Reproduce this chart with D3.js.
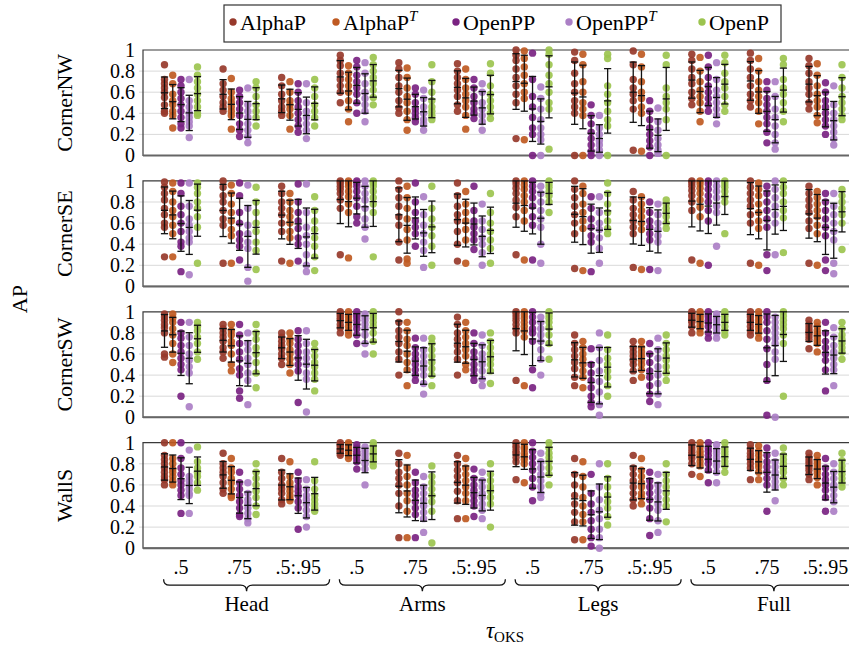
<!DOCTYPE html>
<html>
<head>
<meta charset="utf-8">
<script src="https://cdn.jsdelivr.net/npm/d3@7"></script>
<style>
  body { margin: 0; background: #fff; }
</style>
</head>
<body>
<div id="chart"></div>
<script>
// categories
var parts = ["Head", "Arms", "Legs", "Full"];
var thresholds = [".5", ".75", ".5:.95"];
var methods = ["AlphaP", "AlphaPT", "OpenPP", "OpenPPT", "OpenP"];
var methodNames = [["AlphaP", ""], ["AlphaP", "T"], ["OpenPP", ""], ["OpenPP", "T"], ["OpenP", ""]];
var colors = ["#97392b", "#bf5a22", "#7a2382", "#ab7fc5", "#9cc44f"];
var scenes = ["CornerNW", "CornerSE", "CornerSW", "WallS"];
var yTicks = [0, 0.2, 0.4, 0.6, 0.8, 1];

// AP per video, one list per method, 12 groups (part x threshold) per scene
var cornerNW = [
  [[0.86,0.72,0.68,0.64,0.6,0.55,0.48,0.42,0.40],[0.76,0.68,0.58,0.52,0.48,0.42,0.38,0.26],[0.72,0.66,0.6,0.54,0.48,0.42,0.36,0.3,0.26],[0.72,0.52,0.46,0.4,0.36,0.32,0.28,0.17],[0.84,0.76,0.7,0.64,0.58,0.52,0.46,0.4,0.38]],
  [[0.82,0.68,0.62,0.56,0.5,0.46,0.42],[0.73,0.6,0.54,0.5,0.46,0.42,0.38,0.25],[0.62,0.56,0.5,0.44,0.38,0.3,0.24,0.18],[0.64,0.48,0.42,0.36,0.3,0.24,0.18,0.12],[0.7,0.64,0.56,0.48,0.42,0.36,0.28]],
  [[0.74,0.66,0.58,0.52,0.46,0.42,0.38],[0.7,0.6,0.52,0.48,0.44,0.38,0.25],[0.68,0.6,0.52,0.46,0.4,0.34,0.28,0.22],[0.68,0.5,0.42,0.36,0.3,0.24,0.16],[0.72,0.64,0.56,0.48,0.42,0.36,0.28]],
  [[0.95,0.9,0.85,0.78,0.72,0.66,0.6,0.5],[0.85,0.78,0.72,0.66,0.6,0.52,0.44,0.32],[0.9,0.84,0.76,0.7,0.64,0.58,0.5,0.4],[0.88,0.78,0.68,0.6,0.54,0.48,0.42,0.32],[0.93,0.86,0.8,0.74,0.68,0.62,0.55,0.48]],
  [[0.88,0.82,0.74,0.66,0.6,0.52,0.45,0.4],[0.83,0.74,0.64,0.56,0.5,0.42,0.34,0.24],[0.64,0.58,0.5,0.44,0.4,0.36,0.32],[0.62,0.54,0.46,0.4,0.34,0.3,0.24],[0.86,0.7,0.6,0.52,0.46,0.42,0.38,0.34]],
  [[0.87,0.8,0.74,0.68,0.62,0.56,0.48,0.42],[0.82,0.72,0.64,0.58,0.52,0.46,0.38,0.25],[0.72,0.64,0.56,0.5,0.44,0.4,0.35],[0.68,0.6,0.5,0.44,0.38,0.32,0.24],[0.87,0.78,0.66,0.58,0.52,0.46,0.4,0.35]],
  [[1.0,0.95,0.9,0.82,0.74,0.66,0.58,0.5,0.16],[0.99,0.92,0.84,0.76,0.68,0.6,0.54,0.15],[0.97,0.72,0.56,0.46,0.36,0.26,0.2,0.0],[0.65,0.54,0.44,0.34,0.26,0.2,0.15,0.0],[1.0,0.96,0.86,0.76,0.68,0.6,0.5,0.44,0.06]],
  [[0.98,0.9,0.78,0.68,0.6,0.52,0.46,0.4,0.0],[0.96,0.86,0.7,0.6,0.5,0.44,0.38,0.0],[0.48,0.38,0.3,0.22,0.16,0.1,0.04,0.0],[0.38,0.26,0.2,0.14,0.1,0.05,0.0],[0.96,0.92,0.66,0.58,0.5,0.42,0.34,0.28,0.0]],
  [[0.99,0.86,0.72,0.64,0.58,0.52,0.44,0.05],[0.96,0.84,0.7,0.6,0.54,0.46,0.4,0.04],[0.52,0.42,0.34,0.26,0.2,0.14,0.08,0.0],[0.45,0.32,0.24,0.16,0.1,0.05,0.02],[0.95,0.86,0.64,0.56,0.5,0.44,0.34,0.0]],
  [[0.96,0.9,0.82,0.74,0.68,0.6,0.54,0.48],[0.93,0.8,0.7,0.62,0.56,0.5,0.42,0.32],[0.95,0.84,0.74,0.66,0.6,0.54,0.48,0.42],[0.88,0.72,0.62,0.56,0.5,0.44,0.38,0.3],[0.95,0.88,0.78,0.7,0.64,0.56,0.48,0.42]],
  [[0.97,0.9,0.82,0.74,0.66,0.58,0.52,0.46],[0.92,0.8,0.7,0.62,0.56,0.5,0.42,0.3],[0.7,0.62,0.54,0.48,0.42,0.36,0.3,0.22,0.12],[0.7,0.56,0.44,0.36,0.28,0.2,0.12,0.06],[0.92,0.86,0.72,0.64,0.58,0.5,0.42,0.32]],
  [[0.92,0.85,0.78,0.7,0.64,0.58,0.5,0.44],[0.87,0.76,0.66,0.58,0.52,0.46,0.38,0.31],[0.69,0.6,0.52,0.46,0.4,0.34,0.28,0.2],[0.66,0.48,0.4,0.34,0.28,0.22,0.16,0.1],[0.86,0.74,0.64,0.56,0.5,0.44,0.38,0.34]]
];
var cornerSE = [
  [[0.99,0.94,0.88,0.82,0.74,0.68,0.6,0.56,0.28],[0.98,0.9,0.8,0.72,0.66,0.58,0.5,0.28],[0.98,0.88,0.76,0.68,0.6,0.52,0.42,0.38,0.14],[0.98,0.76,0.64,0.58,0.52,0.46,0.42,0.11],[0.98,0.94,0.88,0.8,0.74,0.66,0.56,0.22]],
  [[1.0,0.94,0.86,0.8,0.72,0.64,0.58,0.22],[0.96,0.88,0.78,0.7,0.62,0.54,0.48,0.22],[0.98,0.86,0.7,0.6,0.5,0.44,0.38,0.25],[0.96,0.74,0.58,0.5,0.42,0.36,0.18,0.05],[0.94,0.8,0.7,0.6,0.52,0.42,0.34,0.16]],
  [[0.95,0.88,0.8,0.74,0.68,0.6,0.52,0.24],[0.88,0.8,0.72,0.66,0.6,0.52,0.46,0.22],[0.97,0.8,0.7,0.62,0.55,0.46,0.4,0.24],[0.97,0.7,0.56,0.48,0.4,0.3,0.2,0.14],[0.85,0.72,0.62,0.54,0.46,0.38,0.28,0.15]],
  [[1.0,0.98,0.95,0.92,0.88,0.82,0.74,0.3],[1.0,0.98,0.95,0.9,0.85,0.78,0.7,0.27],[1.0,0.98,0.95,0.9,0.84,0.76,0.66,0.6],[1.0,0.95,0.88,0.82,0.74,0.64,0.56,0.45],[1.0,0.98,0.95,0.9,0.84,0.78,0.7,0.28]],
  [[1.0,0.92,0.84,0.76,0.66,0.58,0.42,0.25],[0.95,0.84,0.74,0.64,0.54,0.44,0.26,0.22],[0.98,0.8,0.7,0.62,0.56,0.5,0.38],[0.85,0.68,0.58,0.5,0.42,0.34,0.18],[0.95,0.74,0.64,0.56,0.48,0.38,0.2]],
  [[0.98,0.86,0.76,0.68,0.62,0.52,0.4,0.24],[0.9,0.78,0.7,0.62,0.54,0.44,0.22],[0.95,0.72,0.62,0.56,0.5,0.44,0.35],[0.78,0.62,0.54,0.46,0.4,0.32,0.2],[0.88,0.7,0.6,0.52,0.44,0.36,0.22]],
  [[1.0,0.97,0.93,0.88,0.82,0.75,0.66,0.3],[1.0,0.96,0.92,0.86,0.8,0.72,0.62,0.25],[1.0,0.95,0.9,0.84,0.76,0.66,0.58,0.25],[0.95,0.88,0.8,0.72,0.64,0.56,0.4,0.22],[1.0,0.97,0.94,0.9,0.86,0.8,0.7]],
  [[1.0,0.92,0.84,0.76,0.68,0.6,0.5,0.17],[0.95,0.88,0.78,0.7,0.62,0.55,0.15],[0.85,0.74,0.64,0.56,0.48,0.42,0.14],[0.85,0.7,0.6,0.54,0.46,0.36,0.22],[0.98,0.88,0.78,0.7,0.62,0.55,0.5]],
  [[0.9,0.82,0.74,0.68,0.62,0.56,0.5,0.18],[0.85,0.78,0.72,0.66,0.6,0.54,0.16],[0.8,0.7,0.62,0.56,0.5,0.44,0.16],[0.78,0.68,0.6,0.54,0.48,0.42,0.15],[0.82,0.78,0.74,0.7,0.66,0.6,0.55]],
  [[1.0,0.98,0.95,0.91,0.86,0.8,0.72,0.25],[1.0,0.97,0.93,0.88,0.82,0.75,0.66,0.22],[1.0,0.97,0.92,0.86,0.8,0.72,0.62,0.2],[1.0,0.95,0.9,0.84,0.76,0.7,0.38],[1.0,0.97,0.94,0.9,0.85,0.8,0.5]],
  [[1.0,0.94,0.88,0.82,0.76,0.68,0.6,0.22],[0.98,0.92,0.86,0.78,0.7,0.62,0.55,0.2],[0.95,0.88,0.8,0.72,0.64,0.56,0.3,0.15],[1.0,0.92,0.84,0.76,0.68,0.6,0.3],[1.0,0.94,0.88,0.8,0.72,0.65,0.32]],
  [[0.95,0.88,0.82,0.76,0.7,0.62,0.55,0.22],[0.9,0.84,0.78,0.72,0.66,0.58,0.5,0.2],[0.88,0.8,0.72,0.64,0.56,0.48,0.25,0.15],[0.88,0.76,0.68,0.6,0.52,0.44,0.22,0.12],[0.92,0.86,0.8,0.74,0.68,0.6,0.35]]
];
var cornerSW = [
  [[0.98,0.95,0.92,0.88,0.85,0.8,0.6,0.57],[0.98,0.94,0.9,0.84,0.78,0.7,0.6,0.52],[0.9,0.8,0.75,0.68,0.62,0.56,0.5,0.45,0.2],[0.9,0.76,0.68,0.6,0.54,0.48,0.42,0.1],[0.9,0.86,0.82,0.76,0.7,0.62,0.55]],
  [[0.88,0.84,0.8,0.76,0.72,0.66,0.62,0.56],[0.88,0.82,0.78,0.72,0.68,0.6,0.5,0.44],[0.88,0.78,0.7,0.62,0.55,0.46,0.4,0.25,0.18],[0.8,0.7,0.64,0.56,0.5,0.42,0.35,0.12],[0.88,0.8,0.74,0.66,0.6,0.52,0.42,0.28]],
  [[0.8,0.76,0.72,0.68,0.65,0.6,0.56,0.5],[0.8,0.74,0.7,0.64,0.6,0.55,0.5,0.42],[0.82,0.74,0.68,0.62,0.56,0.5,0.44,0.14],[0.82,0.7,0.62,0.56,0.5,0.42,0.36,0.05],[0.7,0.64,0.58,0.52,0.48,0.42,0.36,0.25]],
  [[1.0,0.98,0.96,0.94,0.92,0.88,0.85,0.8],[1.0,0.97,0.95,0.92,0.9,0.86,0.82,0.78],[1.0,0.97,0.95,0.92,0.88,0.84,0.78,0.7],[0.98,0.95,0.92,0.88,0.84,0.78,0.7,0.6],[1.0,0.97,0.94,0.9,0.86,0.8,0.72,0.6]],
  [[1.0,0.9,0.82,0.76,0.7,0.62,0.55,0.4],[0.9,0.82,0.74,0.68,0.6,0.52,0.45,0.3],[0.75,0.66,0.6,0.55,0.5,0.45,0.4,0.35],[0.75,0.64,0.58,0.52,0.46,0.4,0.32,0.22],[0.75,0.7,0.64,0.58,0.52,0.46,0.4,0.3]],
  [[0.95,0.88,0.8,0.74,0.68,0.62,0.55,0.4],[0.9,0.82,0.76,0.7,0.64,0.58,0.5,0.45],[0.8,0.7,0.62,0.56,0.5,0.45,0.4,0.35],[0.78,0.68,0.6,0.55,0.5,0.44,0.36,0.3],[0.8,0.72,0.66,0.6,0.55,0.5,0.44,0.32]],
  [[1.0,0.98,0.95,0.92,0.88,0.84,0.8,0.35],[1.0,0.97,0.94,0.9,0.86,0.82,0.76,0.3],[1.0,0.95,0.9,0.84,0.8,0.72,0.45,0.28],[0.95,0.9,0.84,0.78,0.72,0.64,0.55,0.4],[1.0,0.97,0.94,0.9,0.85,0.78,0.7,0.55]],
  [[0.78,0.7,0.64,0.58,0.52,0.46,0.38,0.3],[0.72,0.66,0.6,0.55,0.5,0.44,0.38,0.28],[0.65,0.5,0.42,0.35,0.28,0.2,0.14,0.1],[0.8,0.66,0.54,0.44,0.34,0.24,0.12,0.02],[0.78,0.64,0.56,0.5,0.44,0.38,0.3,0.2]],
  [[0.72,0.66,0.62,0.58,0.54,0.5,0.44,0.35],[0.72,0.66,0.62,0.58,0.54,0.5,0.45,0.38],[0.7,0.6,0.52,0.44,0.38,0.3,0.22,0.15],[0.75,0.64,0.56,0.48,0.4,0.32,0.22,0.12],[0.78,0.7,0.64,0.58,0.54,0.48,0.42,0.35]],
  [[1.0,0.98,0.96,0.94,0.92,0.9,0.86,0.8],[1.0,0.97,0.95,0.93,0.9,0.87,0.84,0.8],[1.0,0.97,0.95,0.92,0.9,0.86,0.8,0.75],[0.98,0.95,0.93,0.9,0.87,0.84,0.8,0.75],[1.0,0.97,0.95,0.92,0.9,0.86,0.82,0.78]],
  [[1.0,0.97,0.95,0.92,0.9,0.86,0.82,0.78],[1.0,0.96,0.93,0.9,0.87,0.84,0.8,0.75],[1.0,0.95,0.9,0.82,0.74,0.65,0.5,0.35,0.02],[0.95,0.9,0.85,0.8,0.75,0.7,0.62,0.55,0.0],[1.0,0.96,0.92,0.88,0.84,0.78,0.7,0.2]],
  [[0.92,0.88,0.85,0.82,0.8,0.77,0.74,0.65],[0.9,0.86,0.82,0.79,0.76,0.73,0.7,0.62],[0.9,0.8,0.72,0.66,0.6,0.54,0.45,0.25],[0.85,0.76,0.68,0.62,0.56,0.5,0.45,0.3],[0.9,0.84,0.78,0.74,0.7,0.66,0.62,0.55]]
];
var wallS = [
  [[1.0,0.88,0.84,0.8,0.76,0.72,0.68,0.65,0.6],[1.0,0.85,0.8,0.75,0.72,0.68,0.64,0.6],[1.0,0.85,0.76,0.7,0.64,0.6,0.55,0.5,0.33],[0.93,0.68,0.64,0.6,0.56,0.52,0.5,0.33],[0.96,0.82,0.76,0.72,0.68,0.62,0.55]],
  [[0.9,0.8,0.76,0.72,0.68,0.62,0.56,0.52],[0.85,0.76,0.72,0.66,0.62,0.56,0.5,0.48],[0.72,0.62,0.56,0.5,0.44,0.38,0.32,0.3],[0.62,0.52,0.46,0.42,0.38,0.33,0.28,0.24],[0.8,0.72,0.66,0.6,0.54,0.48,0.4,0.32]],
  [[0.85,0.72,0.66,0.6,0.56,0.52,0.46,0.42],[0.82,0.68,0.62,0.58,0.54,0.5,0.47,0.45],[0.72,0.64,0.58,0.54,0.5,0.44,0.38,0.18],[0.65,0.56,0.5,0.46,0.42,0.36,0.3,0.2],[0.82,0.64,0.56,0.5,0.46,0.42,0.38,0.35]],
  [[1.0,0.98,0.97,0.95,0.93,0.92,0.9,0.88],[1.0,0.98,0.96,0.94,0.92,0.9,0.88,0.85],[0.98,0.95,0.92,0.9,0.88,0.85,0.82,0.75],[0.96,0.93,0.9,0.87,0.84,0.8,0.75,0.6],[1.0,0.97,0.94,0.91,0.88,0.85,0.82,0.78]],
  [[0.9,0.8,0.72,0.66,0.6,0.52,0.4,0.1],[0.88,0.76,0.68,0.6,0.52,0.45,0.35,0.1],[0.72,0.62,0.55,0.5,0.44,0.38,0.32,0.1],[0.68,0.58,0.52,0.46,0.4,0.34,0.28,0.15],[0.78,0.68,0.62,0.56,0.5,0.44,0.35,0.05]],
  [[0.88,0.8,0.74,0.68,0.62,0.54,0.45,0.28],[0.85,0.76,0.7,0.64,0.58,0.52,0.45,0.28],[0.75,0.66,0.6,0.55,0.5,0.45,0.4,0.3],[0.72,0.64,0.58,0.52,0.48,0.42,0.36,0.28],[0.8,0.7,0.64,0.58,0.54,0.48,0.42,0.2]],
  [[1.0,0.97,0.95,0.92,0.9,0.86,0.82,0.65],[1.0,0.96,0.94,0.9,0.87,0.84,0.8,0.62],[1.0,0.92,0.86,0.8,0.74,0.66,0.58,0.45],[0.9,0.82,0.76,0.7,0.64,0.58,0.52,0.48],[1.0,0.95,0.9,0.86,0.82,0.76,0.7,0.6]],
  [[0.85,0.7,0.6,0.5,0.42,0.34,0.25,0.08],[0.82,0.68,0.58,0.48,0.4,0.32,0.25,0.08],[0.7,0.52,0.42,0.34,0.26,0.18,0.1,0.02],[0.8,0.58,0.46,0.36,0.28,0.18,0.1,0.0],[0.8,0.66,0.58,0.5,0.44,0.38,0.3,0.22]],
  [[0.88,0.76,0.7,0.64,0.58,0.52,0.46,0.4],[0.85,0.74,0.68,0.62,0.58,0.52,0.48,0.42],[0.72,0.64,0.58,0.52,0.46,0.38,0.28,0.12],[0.7,0.6,0.54,0.48,0.42,0.36,0.26,0.15],[0.8,0.7,0.64,0.58,0.52,0.46,0.4,0.25]],
  [[1.0,0.97,0.94,0.91,0.88,0.85,0.8,0.7],[1.0,0.96,0.92,0.89,0.86,0.82,0.78,0.68],[1.0,0.95,0.92,0.88,0.84,0.8,0.74,0.62],[0.98,0.93,0.9,0.86,0.82,0.78,0.72,0.62],[1.0,0.95,0.92,0.89,0.86,0.82,0.78,0.72]],
  [[0.98,0.94,0.9,0.87,0.84,0.8,0.76,0.65],[0.97,0.92,0.88,0.84,0.8,0.77,0.72,0.65],[0.95,0.88,0.82,0.77,0.72,0.66,0.6,0.35],[0.9,0.82,0.77,0.72,0.68,0.63,0.58,0.45],[0.95,0.88,0.84,0.8,0.76,0.72,0.66,0.6]],
  [[0.9,0.86,0.83,0.8,0.77,0.74,0.7,0.65],[0.88,0.83,0.8,0.77,0.74,0.71,0.67,0.6],[0.85,0.76,0.7,0.65,0.6,0.55,0.48,0.35],[0.8,0.72,0.66,0.6,0.56,0.5,0.44,0.35],[0.9,0.83,0.78,0.74,0.7,0.66,0.62,0.58]]
];
var sceneData = [cornerNW, cornerSE, cornerSW, wallS];

// layout
var W = 849, H = 652;
var frameLeft = 143, frameRight = 872;
var panelTop0 = 50, panelStep = 130.9, panelH = 105.5;
var serif = "'Liberation Serif', 'Times New Roman', Times, 'DejaVu Serif', serif";

var svg = d3.select("#chart").append("svg")
    .attr("width", W)
    .attr("height", H)
    .attr("font-family", serif)
    .style("font-family", serif);

var groups = d3.range(parts.length * thresholds.length);
var x = d3.scalePoint().domain(groups).range([181, 825.5]);
var xm = d3.scalePoint().domain(methods).range([-16.5, 16.5]);

scenes.forEach(function(scene, si) {
    var top = panelTop0 + si * panelStep;
    var y = d3.scaleLinear().domain([0, 1]).range([top + panelH, top]);
    var g = svg.append("g");

    // grid
    g.selectAll("line.grid")
      .data(yTicks.filter(function(t) { return t > 0 && t < 1; }))
      .enter().append("line")
        .attr("x1", frameLeft - 4)
        .attr("x2", frameRight)
        .attr("y1", function(d) { return y(d); })
        .attr("y2", function(d) { return y(d); })
        .attr("stroke", "#d9d9d9")
        .attr("stroke-width", 1);

    // y labels
    g.selectAll("text.ytick")
      .data(yTicks)
      .enter().append("text")
        .attr("x", frameLeft - 8)
        .attr("y", function(d) { return y(d); })
        .attr("dy", "0.34em")
        .attr("text-anchor", "end")
        .style("font-size", "20px")
        .text(function(d) { return d3.format("")(d); });

    // frame: left, top, bottom
    g.append("path")
        .attr("d", "M" + frameRight + "," + y(1) + "H" + frameLeft + "V" + y(0) + "H" + frameRight)
        .attr("fill", "none")
        .attr("stroke", "#3a3a3a")
        .attr("stroke-width", 1.2);
    g.append("line")
        .attr("x1", frameLeft).attr("x2", frameRight)
        .attr("y1", y(0)).attr("y2", y(0))
        .attr("stroke", "#666")
        .attr("stroke-width", 2);

    // scene label
    g.append("text")
        .attr("transform", "translate(72," + (top + panelH / 2) + ") rotate(-90)")
        .attr("text-anchor", "middle")
        .style("font-size", "22px")
        .text(scene);

    // dots and error bars
    sceneData[si].forEach(function(grp, gi) {
        grp.forEach(function(vals, mi) {
            var cx = x(gi) + xm(methods[mi]);
            g.selectAll(null)
              .data(vals)
              .enter().append("circle")
                .attr("cx", cx)
                .attr("cy", function(d) { return y(d); })
                .attr("r", 3.7)
                .attr("fill", colors[mi])
                .attr("fill-opacity", 0.92);
        });
        grp.forEach(function(vals, mi) {
            var cx = x(gi) + xm(methods[mi]);
            var m = d3.mean(vals), s = d3.deviation(vals);
            var lo = Math.max(0, m - s), hi = Math.min(1, m + s);
            var eb = g.append("g").attr("stroke", "#111").attr("stroke-width", 1.3);
            eb.append("line").attr("x1", cx).attr("x2", cx).attr("y1", y(lo)).attr("y2", y(hi));
            [lo, m, hi].forEach(function(v) {
                eb.append("line").attr("x1", cx - 3.6).attr("x2", cx + 3.6).attr("y1", y(v)).attr("y2", y(v));
            });
        });
    });
});

// x tick labels
var lastBottom = panelTop0 + 3 * panelStep + panelH;
svg.selectAll("text.xtick")
  .data(groups)
  .enter().append("text")
    .attr("x", function(d) { return x(d); })
    .attr("y", lastBottom + 26)
    .attr("text-anchor", "middle")
    .style("font-size", "20px")
    .text(function(d) { return thresholds[d % thresholds.length]; });

// braces with part labels
parts.forEach(function(p, pi) {
    var cx = (x(pi * 3) + x(pi * 3 + 2)) / 2 + 7;
    var x0 = cx - 83, x1 = cx + 83, y0 = lastBottom + 31, h = 12, r = 6;
    var ym = y0 + h / 2;
    var d = "M" + x0 + "," + y0 +
        "Q" + x0 + "," + ym + " " + (x0 + r) + "," + ym +
        "L" + (cx - r) + "," + ym +
        "Q" + cx + "," + ym + " " + cx + "," + (y0 + h) +
        "Q" + cx + "," + ym + " " + (cx + r) + "," + ym +
        "L" + (x1 - r) + "," + ym +
        "Q" + x1 + "," + ym + " " + x1 + "," + y0;
    svg.append("path")
        .attr("d", d)
        .attr("fill", "none")
        .attr("stroke", "#111")
        .attr("stroke-width", 1.3);
    svg.append("text")
        .attr("x", cx)
        .attr("y", lastBottom + 63)
        .attr("text-anchor", "middle")
        .style("font-size", "21px")
        .text(p);
});

// axis titles
var tau = svg.append("text")
    .attr("x", 505)
    .attr("y", 638)
    .attr("text-anchor", "middle")
    .style("font-size", "23px");
tau.append("tspan").style("font-style", "italic").text("τ");
tau.append("tspan").attr("dy", 4).style("font-size", "15px").text("OKS");

svg.append("text")
    .attr("transform", "translate(27," + ((panelTop0 + lastBottom) / 2) + ") rotate(-90)")
    .attr("text-anchor", "middle")
    .style("font-size", "22px")
    .text("AP");

// legend
var legendX = [233, 336, 456, 569, 702];
var ly = 23;
var legend = svg.append("g");
legend.append("rect")
    .attr("x", 224).attr("y", 5)
    .attr("width", 557).attr("height", 37)
    .attr("fill", "#fff")
    .attr("stroke", "#333")
    .attr("stroke-width", 1.2);
methodNames.forEach(function(nm, i) {
    var lx = legendX[i];
    legend.append("circle")
        .attr("cx", lx).attr("cy", ly - 1).attr("r", 3.7)
        .attr("fill", colors[i]);
    var t = legend.append("text")
        .attr("x", lx + 7)
        .attr("y", ly)
        .attr("dy", "0.34em")
        .style("font-size", "22px");
    t.append("tspan").text(nm[0]);
    if (nm[1]) {
        t.append("tspan").attr("dy", -9).style("font-size", "15px").style("font-style", "italic").text(nm[1]);
    }
});
</script>
</body>
</html>
